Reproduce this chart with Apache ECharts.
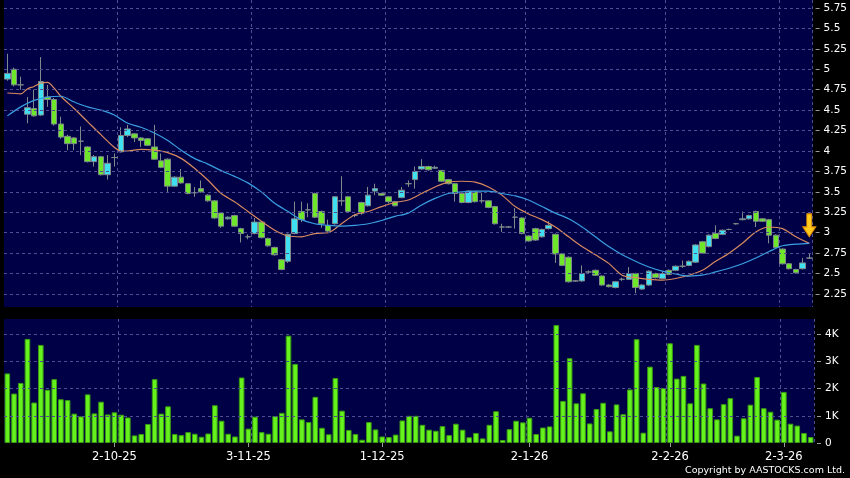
<!DOCTYPE html>
<html>
<head>
<meta charset="utf-8">
<script src="https://cdn.jsdelivr.net/npm/echarts@6/dist/echarts.min.js"></script>
<style>
  html, body { margin: 0; padding: 0; background: #000; }
  #chart { width: 850px; height: 478px; }
</style>
</head>
<body>
<div id="chart"></div>
<script>
// daily OHLC (one entry per trading day)
const opens = [4.88,5.00,4.81,4.45,4.52,4.44,4.66,4.63,4.33,4.18, 4.16,4.12,4.05,3.87,3.93,3.71,3.92,3.99,4.19,4.21,
  4.16,4.15,4.05,3.88,3.90,3.57,3.68,3.60,3.49,3.54, 3.46,3.39,3.24,3.17,3.21,3.05,2.95,2.99,3.13,2.93,
  2.82,2.67,2.65,2.99,3.26,3.28,3.48,3.26,3.09,3.11, 3.39,3.44,3.21,3.37,3.33,3.51,3.48,3.44,3.38,3.43,
  3.60,3.65,3.78,3.81,3.79,3.76,3.65,3.60,3.48,3.37, 3.50,3.39,3.39,3.32,3.07,3.07,3.19,3.18,2.96,3.05,
  2.95,3.05,2.98,2.74,2.70,2.41,2.41,2.52,2.54,2.47, 2.36,2.33,2.43,2.43,2.50,2.31,2.36,2.50,2.44,2.54,
  2.54,2.59,2.60,2.64,2.89,2.83,2.99,2.98,3.04,3.11, 3.16,3.17,3.26,3.17,3.16,2.97,2.80,2.62,2.55,2.56,2.69];
const closes = [4.95,4.81,4.81,4.53,4.43,4.85,4.63,4.33,4.17,4.09, 4.09,4.12,3.87,3.93,3.71,3.85,3.92,4.19,4.27,4.16,
  4.13,4.07,3.90,3.80,3.57,3.68,3.61,3.48,3.49,3.50, 3.39,3.18,3.08,3.19,3.08,2.99,2.95,3.13,2.94,2.84,
  2.73,2.55,2.98,3.17,3.16,3.28,3.19,3.11,3.02,3.44, 3.39,3.26,3.21,3.24,3.46,3.54,3.46,3.38,3.33,3.52,
  3.60,3.75,3.81,3.77,3.80,3.63,3.60,3.48,3.37,3.51, 3.38,3.39,3.31,3.11,3.07,3.07,3.19,2.99,2.90,2.91,
  3.04,3.09,2.74,2.60,2.40,2.41,2.50,2.52,2.48,2.36, 2.34,2.40,2.43,2.50,2.33,2.36,2.53,2.45,2.50,2.49,
  2.59,2.59,2.65,2.85,2.75,2.97,2.93,3.03,3.04,3.11, 3.17,3.21,3.14,3.14,2.97,2.82,2.62,2.56,2.51,2.63,2.69];
const lows = [4.86,4.79,4.75,4.34,4.42,4.43,4.54,4.31,4.15,4.01, 4.01,3.95,3.86,3.81,3.70,3.65,3.81,3.98,4.17,4.11,
  4.05,4.06,3.89,3.79,3.50,3.56,3.60,3.47,3.44,3.49, 3.38,3.17,3.06,3.16,3.07,2.88,2.92,2.98,2.93,2.83,
  2.72,2.54,2.63,2.98,3.13,3.19,3.18,3.06,3.01,3.10, 3.33,3.25,3.19,3.22,3.32,3.46,3.45,3.36,3.32,3.42,
  3.56,3.54,3.77,3.76,3.78,3.62,3.59,3.38,3.36,3.36, 3.37,3.36,3.30,3.10,3.01,3.06,3.05,2.98,2.89,2.90,
  2.94,3.04,2.63,2.59,2.39,2.40,2.40,2.50,2.47,2.35, 2.33,2.32,2.41,2.42,2.26,2.30,2.35,2.44,2.43,2.48,
  2.53,2.57,2.59,2.63,2.74,2.82,2.92,2.97,3.03,3.10, 3.15,3.16,3.07,3.13,2.87,2.81,2.61,2.55,2.50,2.55,2.68];
const highs = [5.19,5.02,4.91,4.66,4.75,5.15,4.81,4.65,4.42,4.20, 4.17,4.30,4.06,3.95,3.94,3.95,3.97,4.29,4.32,4.22,
  4.17,4.16,4.32,3.97,3.91,3.69,3.78,3.61,3.56,3.64, 3.47,3.40,3.25,3.20,3.22,3.06,2.98,3.18,3.14,2.94,
  2.83,2.68,2.99,3.38,3.38,3.36,3.49,3.27,3.16,3.45, 3.69,3.45,3.23,3.38,3.56,3.60,3.49,3.45,3.39,3.56,
  3.64,3.81,3.90,3.82,3.82,3.77,3.66,3.61,3.49,3.52, 3.51,3.49,3.40,3.33,3.11,3.08,3.30,3.19,2.97,3.06,
  3.05,3.14,2.99,2.75,2.71,2.42,2.60,2.54,2.55,2.48, 2.37,2.41,2.45,2.58,2.51,2.37,2.54,2.51,2.53,2.55,
  2.60,2.66,2.66,2.86,2.90,2.98,3.09,3.04,3.05,3.12, 3.26,3.22,3.27,3.18,3.17,2.98,2.81,2.63,2.56,2.69,2.74];
// volume in thousands
const volumes = [2.56,1.82,2.21,3.83,1.49,3.61,1.96,2.35,1.61,1.58, 1.08,0.98,1.79,1.09,1.52,1.05,1.13,1.04,0.94,0.28,
  0.33,0.70,2.35,1.08,1.35,0.33,0.29,0.40,0.34,0.23, 0.35,1.39,0.82,0.34,0.24,2.41,0.53,0.97,0.40,0.34,
  0.99,1.11,3.95,2.91,0.87,0.77,1.70,0.56,0.32,2.39, 1.19,0.48,0.33,0.12,0.77,0.50,0.24,0.22,0.31,0.83,
  1.00,1.00,0.67,0.49,0.45,0.62,0.29,0.71,0.49,0.21, 0.37,0.17,0.67,1.17,0.11,0.51,0.82,0.76,0.93,0.33,
  0.57,0.61,4.34,1.55,3.12,1.46,1.83,0.72,1.25,1.48, 0.43,1.42,1.06,1.97,3.82,0.38,2.81,2.06,2.02,3.67,
  2.37,2.47,1.46,3.61,2.19,1.28,0.87,1.43,1.65,0.27, 0.91,1.41,2.43,1.28,1.15,0.86,1.88,0.71,0.64,0.37,0.22];

// moving averages as drawn (sampled by day index)
const ma10Idx = [0,2,3,4,5,6,7,8,10,12,14,16,17,18,20,22,24,26,28,30,32,34,36,38,40,42,44,46,48,50,52,54,56,58,60,
  62,64,66,68,70,72,74,76,78,80,82,84,86,88,90,92,94,96,98,100,102,104,106,108,110,112,114,116,118,120];
const ma10 = [4.71,4.70,4.76,4.79,4.83,4.84,4.77,4.67,4.52,4.36,4.20,4.045,4.00,4.00,4.02,4.01,3.98,3.91,3.79,3.645,
  3.48,3.38,3.26,3.14,3.03,2.96,2.95,2.99,3.00,3.11,3.22,3.26,3.32,3.37,3.40, 3.48,3.56,3.62,3.63,3.62,3.56,3.46,
  3.32,3.23,3.16,3.07,2.95,2.83,2.73,2.625,2.48,2.45,2.43,2.42,2.44,2.48,2.54,2.65,2.75,2.87,3.01,3.07,3.05,2.95,2.87];
const ma20Idx = [0,2,4,6,8,10,12,14,16,18,20,22,24,26,28,30,32,34,36,38,40,42,44,46,48,50,52,54,56,58,60,
  62,64,66,68,70,72,74,76,78,80,82,84,86,88,90,92,94,96,98,100,102,104,106,108,110,112,114,116,118,120];
const ma20 = [4.43,4.54,4.62,4.66,4.67,4.60,4.54,4.50,4.44,4.34,4.29,4.22,4.13,4.01,3.91,3.84,3.76,3.69,3.61,3.50,
  3.36,3.26,3.16,3.11,3.09,3.08,3.09,3.11,3.15,3.20,3.24, 3.34,3.42,3.48,3.50,3.51,3.51,3.48,3.45,3.40,3.32,
  3.24,3.17,3.07,2.95,2.83,2.73,2.65,2.58,2.53,2.495,2.47,2.48,2.52,2.565,2.62,2.69,2.77,2.84,2.86,2.87];

// axis labels
const tickIdx = [16, 36, 56, 78, 99, 116];
const tickText = ['2-10-25', '3-11-25', '1-12-25', '2-1-26', '2-2-26', '2-3-26'];
const gridIdx = [17, 37, 57, 78, 99, 116];
const priceTicks = [2.25,2.5,2.75,3,3.25,3.5,3.75,4,4.25,4.5,4.75,5,5.25,5.5,5.75];
const volTicks = [0, 1, 2, 3, 4];
const arrowPrice = 2.95;

const categories = closes.map((_, i) => String(i));
const candles = opens.map((o, i) => [o, closes[i], lows[i], highs[i]]);

const navy = '#000046';
const dash = { color: '#4e4e90', type: [3, 3], width: 1 };
const font = 'DejaVu Sans';

function catAxis(gridIndex, withLabels) {
  return {
    type: 'category', gridIndex: gridIndex, data: categories,
    axisLine: { show: false },
    axisTick: {
      show: withLabels, alignWithLabel: true, length: 4,
      interval: (idx) => tickIdx.includes(idx),
      lineStyle: { color: '#9a9a9a' }
    },
    axisLabel: {
      show: withLabels, color: '#fff', fontSize: 11.5, fontFamily: font, margin: 8,
      interval: (idx) => tickIdx.includes(idx),
      formatter: (v) => tickText[tickIdx.indexOf(Number(v))] || ''
    },
    splitLine: { show: true, interval: (idx) => gridIdx.includes(idx), lineStyle: dash }
  };
}

const chart = echarts.init(document.getElementById('chart'));
const option = {
  backgroundColor: '#000',
  animation: false,
  grid: [
    { left: 4, right: 36, top: 0, height: 307, show: true, backgroundColor: navy, borderWidth: 0 },
    { left: 4, right: 36, top: 319, height: 124, show: true, backgroundColor: navy, borderWidth: 0 }
  ],
  xAxis: [catAxis(0, false), catAxis(1, true)],
  yAxis: [
    {
      type: 'value', gridIndex: 0, position: 'right', offset: 3,
      min: 2.091, max: 5.848,
      axisLine: { show: false }, splitLine: { show: false },
      axisTick: { show: true, length: 4, customValues: priceTicks, lineStyle: { color: '#9a9a9a' } },
      axisLabel: { customValues: priceTicks, color: '#fff', fontSize: 10.5, fontFamily: font, margin: 8 }
    },
    {
      type: 'value', gridIndex: 1, position: 'right', offset: 3,
      min: 0, max: 4.563,
      axisLine: { show: false }, splitLine: { show: false },
      axisTick: { show: true, length: 4, customValues: volTicks, lineStyle: { color: '#9a9a9a' } },
      axisLabel: {
        customValues: volTicks, color: '#fff', fontSize: 10.5, fontFamily: font, margin: 8,
        formatter: (v) => (v === 0 ? '0' : v + 'K')
      }
    }
  ],
  series: [
    { // horizontal dashed grid, price panel
      type: 'line', xAxisIndex: 0, yAxisIndex: 0, data: [], z: 1, silent: true,
      markLine: {
        silent: true, symbol: 'none', label: { show: false }, lineStyle: dash,
        data: priceTicks.map(v => ({ yAxis: v }))
      }
    },
    { // horizontal dashed grid, volume panel
      type: 'line', xAxisIndex: 1, yAxisIndex: 1, data: [], z: 1, silent: true,
      markLine: {
        silent: true, symbol: 'none', label: { show: false }, lineStyle: dash,
        data: volTicks.filter(v => v > 0).map(v => ({ yAxis: v }))
      }
    },
    {
      type: 'candlestick', xAxisIndex: 0, yAxisIndex: 0, data: candles, barWidth: 6, z: 2,
      itemStyle: {
        color: '#3fe0f2', color0: '#6ee62a',
        borderColor: '#7f8a8a', borderColor0: '#7f8a8a', borderWidth: 1
      }
    },
    {
      type: 'line', xAxisIndex: 0, yAxisIndex: 0, z: 3, smooth: 0.3,
      data: ma10Idx.map((x, k) => [x, ma10[k]]),
      showSymbol: false, lineStyle: { color: '#d88a5e', width: 1.2 }
    },
    {
      type: 'line', xAxisIndex: 0, yAxisIndex: 0, z: 3, smooth: 0.3,
      data: ma20Idx.map((x, k) => [x, ma20[k]]),
      showSymbol: false, lineStyle: { color: '#3a9fe2', width: 1.2 },
      markPoint: {
        silent: true,
        symbol: 'path://M4,0 L9,0 L9,13 L13,13 L6.5,23 L0,13 L4,13 Z',
        symbolSize: [13, 23],
        symbolOffset: [0, '-50%'],
        label: { show: false },
        itemStyle: { color: '#ffc81a', borderColor: '#e08a00', borderWidth: 1 },
        data: [{ coord: [closes.length - 1, arrowPrice] }]
      }
    },
    {
      type: 'bar', xAxisIndex: 1, yAxisIndex: 1, data: volumes, barWidth: 5.6,
      itemStyle: { color: '#66f21d', borderColor: '#3a9b12', borderWidth: 1 }
    }
  ],
  graphic: [{
    type: 'text', right: 5, bottom: 2,
    style: { text: 'Copyright by AASTOCKS.com Ltd.', fill: '#fff', font: '9.5px "DejaVu Sans"' }
  }]
};
chart.setOption(option);
</script>
</body>
</html>
